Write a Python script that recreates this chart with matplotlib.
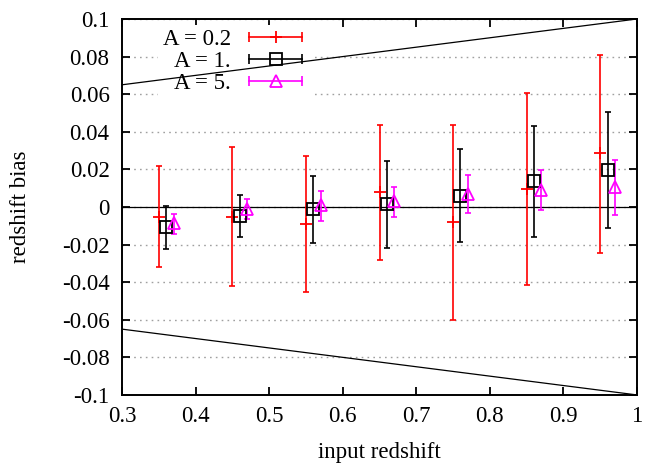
import matplotlib
matplotlib.use("Agg")
import matplotlib.pyplot as plt
import numpy as np
from matplotlib.lines import Line2D
from matplotlib.legend_handler import HandlerLine2D, HandlerTuple

plt.rcParams['font.family'] = ['Liberation Serif', 'DejaVu Serif']
plt.rcParams['font.size'] = 16.5

# A = 0.2 (red)
z_a02 = [0.35, 0.45, 0.55, 0.65, 0.75, 0.85, 0.95]
bias_a02 = [-0.0051, -0.0051, -0.0090, 0.0078, -0.0081, 0.0094, 0.0285]
lo_a02 = [-0.0320, -0.0423, -0.0452, -0.0281, -0.0599, -0.0417, -0.0244]
hi_a02 = [0.0219, 0.0320, 0.0272, 0.0435, 0.0435, 0.0606, 0.0808]

# A = 1. (black)
z_a1 = [0.36, 0.46, 0.56, 0.66, 0.76, 0.86, 0.96]
bias_a1 = [-0.0108, -0.0048, -0.0012, 0.0016, 0.0058, 0.0136, 0.0195]
lo_a1 = [-0.0223, -0.0160, -0.0193, -0.0216, -0.0189, -0.0158, -0.0113]
hi_a1 = [0.0005, 0.0064, 0.0166, 0.0246, 0.0308, 0.0431, 0.0504]

# A = 5. (magenta)
z_a5 = [0.37, 0.47, 0.57, 0.67, 0.77, 0.87, 0.97]
bias_a5 = [-0.0085, -0.0012, 0.0008, 0.0030, 0.0070, 0.0090, 0.0104]
lo_a5 = [-0.0143, -0.0065, -0.0073, -0.0055, -0.0034, -0.0014, -0.0041]
hi_a5 = [-0.0037, 0.0040, 0.0083, 0.0108, 0.0171, 0.0195, 0.0248]

# envelope lines
env_z = [0.3, 1.0]
env_hi = [0.065, 0.1]
env_lo = [-0.065, -0.1]

series = [
    ("A = 0.2", z_a02, bias_a02, lo_a02, hi_a02, "#ff0000", "+"),
    ("A = 1.", z_a1, bias_a1, lo_a1, hi_a1, "black", "s"),
    ("A = 5.", z_a5, bias_a5, lo_a5, hi_a5, "#ff00ff", "^"),
]

fig = plt.figure(figsize=(6.46, 4.63), dpi=100)
ax = fig.add_axes([0.189, 0.147, 0.797, 0.812])

handles = []
labels = []
hmap = {}
for label, z, b, lo, hi, col, mk in series:
    b = np.array(b)
    yerr = [b - np.array(lo), np.array(hi) - b]
    ms = 9 if mk == "+" else 8
    ax.errorbar(z, b, yerr=yerr, fmt="none", ecolor=col, elinewidth=1.2,
                capsize=2.3, capthick=1.2, zorder=3)
    ax.plot(z, b, linestyle="none", marker=mk, markersize=ms,
            markerfacecolor="none", markeredgecolor=col,
            markeredgewidth=1.3, zorder=4)
    # key sample: line with end caps + symbol in the middle
    capline = Line2D([], [], color=col, linewidth=1.2, marker="|",
                     markersize=7, markeredgewidth=1.2)
    center = Line2D([], [], linestyle="none", marker=mk, markersize=ms,
                    markerfacecolor="none", markeredgecolor=col,
                    markeredgewidth=1.3)
    hmap[capline] = HandlerLine2D(numpoints=2)
    hmap[center] = HandlerLine2D(numpoints=1)
    h = (capline, center)
    hmap[h] = HandlerTuple(ndivide=1)
    handles.append(h)
    labels.append(label)

ax.axhline(0, color="black", linewidth=0.9, zorder=2)
ax.plot(env_z, env_hi, color="black", linewidth=0.9, zorder=2)
ax.plot(env_z, env_lo, color="black", linewidth=0.9, zorder=2)

ax.set_xlim(0.3, 1.0)
ax.set_ylim(-0.1, 0.1)
ax.set_xticks(np.arange(0.3, 1.01, 0.1))
ax.set_xticklabels(["0.3", "0.4", "0.5", "0.6", "0.7", "0.8", "0.9", "1"])
ax.set_yticks(np.arange(-0.1, 0.1001, 0.02))
ax.set_yticklabels(["-0.1", "-0.08", "-0.06", "-0.04", "-0.02", "0",
                    "0.02", "0.04", "0.06", "0.08", "0.1"])
ax.tick_params(direction="in", length=6, width=1.3, top=True, right=True)
ax.tick_params(axis="y", pad=9)
ax.tick_params(axis="x", pad=8)
for s in ax.spines.values():
    s.set_linewidth(1.4)

ax.set_axisbelow(True)
ax.yaxis.grid(True, color="#a0a0a0", linestyle=(0, (1.2, 3)), linewidth=1.0)

ax.set_xlabel("input redshift", labelpad=11)
ax.set_ylabel("redshift bias", labelpad=22)

leg = ax.legend(handles, labels, handler_map=hmap, markerfirst=False,
                frameon=True, facecolor="white", edgecolor="none",
                framealpha=1, loc="upper left",
                bbox_to_anchor=(0.07, 0.985), borderaxespad=0,
                handlelength=2.9, handletextpad=0.5, labelspacing=0.03,
                borderpad=0.2, fancybox=False)
leg.set_zorder(1.5)

fig.savefig("out.png", dpi=100)
